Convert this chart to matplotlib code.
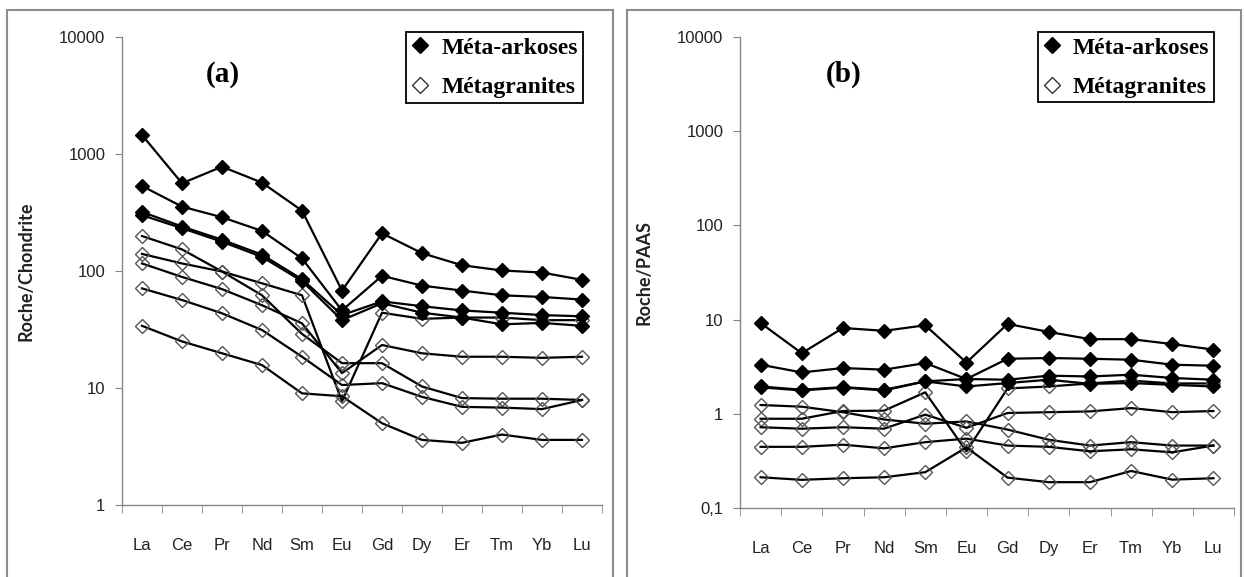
import matplotlib
matplotlib.use("Agg")
import matplotlib.pyplot as plt
from matplotlib import font_manager
from matplotlib.lines import Line2D
from matplotlib.patches import Rectangle
from matplotlib.ticker import FixedLocator, FixedFormatter, NullLocator

# --------------------------------------------------
# donnees
# --------------------------------------------------
elements = ["La", "Ce", "Pr", "Nd", "Sm", "Eu", "Gd", "Dy", "Er", "Tm", "Yb", "Lu"]

# Roche / Chondrite
arkoses_chondrite = [
    [1453, 562, 779, 569, 328, 68, 210, 142, 112, 101, 97, 84],
    [533, 355, 288, 220, 128, 46, 91, 75, 68, 62, 60, 57],
    [320, 240, 185, 138, 85, 42, 55, 50, 46, 44, 42, 41],
    [300, 232, 178, 132, 82, 38, 53, 44, 40, 35, 36, 34],
]
granites_chondrite = [
    [199, 153, 99, 62, 29, 16.3, 16.3, 10.3, 8.2, 8.1, 8.1, 7.9],
    [140, 116, 99, 78.5, 62, 7.7, 44, 39, 40, 40, 38, 38],
    [116, 89, 70, 51, 35.7, 13.4, 23.3, 19.8, 18.5, 18.5, 18.1, 18.5],
    [71, 56.5, 43.5, 31.3, 18.5, 10.6, 11.0, 8.4, 6.9, 6.8, 6.6, 7.9],
    [34, 25, 19.8, 15.7, 9.0, 8.5, 5.0, 3.6, 3.4, 4.0, 3.6, 3.6],
]

# Roche / PAAS
arkoses_paas = [
    [9.2, 4.4, 8.15, 7.6, 8.7, 3.5, 9.0, 7.4, 6.2, 6.2, 5.5, 4.8],
    [3.32, 2.75, 3.06, 2.94, 3.46, 2.34, 3.84, 3.91, 3.84, 3.75, 3.32, 3.24],
    [1.95, 1.80, 1.92, 1.80, 2.21, 2.34, 2.30, 2.54, 2.49, 2.60, 2.40, 2.30],
    [1.91, 1.77, 1.90, 1.77, 2.21, 1.95, 2.12, 2.30, 2.08, 2.12, 2.03, 1.95],
]
granites_paas = [
    [1.24, 1.19, 1.04, 0.87, 0.785, 0.83, 0.68, 0.53, 0.46, 0.50, 0.46, 0.46],
    [0.886, 0.886, 1.07, 1.08, 1.69, 0.40, 1.86, 1.95, 2.1, 2.25, 2.1, 2.1],
    [0.72, 0.695, 0.72, 0.695, 0.98, 0.71, 1.02, 1.04, 1.06, 1.15, 1.04, 1.07],
    [0.446, 0.446, 0.47, 0.43, 0.50, 0.545, 0.46, 0.446, 0.40, 0.42, 0.39, 0.46],
    [0.212, 0.199, 0.207, 0.212, 0.24, 0.44, 0.21, 0.188, 0.188, 0.247, 0.20, 0.207],
]

ticks_a = [1, 10, 100, 1000, 10000]
labels_a = ["1", "10", "100", "1000", "10000"]
ticks_b = [0.1, 1, 10, 100, 1000, 10000]
labels_b = ["0,1", "1", "10", "100", "1000", "10000"]

legende = ["Méta-arkoses", "Métagranites"]


# --------------------------------------------------
# polices
# --------------------------------------------------
noms = {f.name for f in font_manager.fontManager.ttflist}
if "Liberation Sans Narrow" in noms:
    police_axes = "Liberation Sans Narrow"
    taille_axes = 13.5
else:
    police_axes = "Liberation Sans"
    taille_axes = 12

GRIS = "#868686"


def tracer(ax, arkoses, granites, ticks, labels, ylabel, titre):

    x = list(range(len(elements)))

    for serie in granites:
        ax.plot(x, serie, color="black", lw=1.6, marker="D", ms=7.5,
                mfc="none", mec="#555555", mew=1.0, zorder=2)

    for serie in arkoses:
        ax.plot(x, serie, color="black", lw=1.6, marker="D", ms=7,
                mfc="black", mec="black", zorder=3)

    ax.set_yscale("log")
    ax.set_ylim(ticks[0], ticks[-1])
    ax.set_xlim(-0.5, len(elements) - 0.5)

    ax.yaxis.set_major_locator(FixedLocator(ticks))
    ax.yaxis.set_major_formatter(FixedFormatter(labels))
    ax.yaxis.set_minor_locator(NullLocator())

    ax.set_xticks(x)
    ax.set_xticklabels(elements)
    ax.set_xticks([i - 0.5 for i in range(len(elements) + 1)], minor=True)

    ax.tick_params(axis="x", which="major", length=0, pad=24)
    ax.tick_params(axis="x", which="minor", length=6, color=GRIS, direction="out")
    ax.tick_params(axis="y", which="major", length=5, color=GRIS, direction="out", pad=7)

    for lab in ax.get_xticklabels() + ax.get_yticklabels():
        lab.set_fontfamily(police_axes)
        lab.set_fontsize(taille_axes)
        lab.set_color("#222222")

    for cote in ["top", "right"]:
        ax.spines[cote].set_visible(False)
    for cote in ["left", "bottom"]:
        ax.spines[cote].set_color(GRIS)
        ax.spines[cote].set_linewidth(1.0)

    ax.set_ylabel(ylabel, fontfamily="Lato", fontweight="bold", fontsize=13,
                  labelpad=18, color="#222222")

    ax.text(0.21, 0.92, titre, transform=ax.transAxes, ha="center", va="center",
            fontfamily="Liberation Serif", fontweight="bold", fontsize=21)

    poignees = [
        Line2D([], [], ls="none", marker="D", ms=8, mfc="black", mec="black"),
        Line2D([], [], ls="none", marker="D", ms=8, mfc="white", mec="#333333", mew=1.0),
    ]
    leg = ax.legend(poignees, legende, loc="upper right", bbox_to_anchor=(0.96, 1.01),
                    frameon=True, fancybox=False, framealpha=1, edgecolor="black",
                    borderpad=0.2, labelspacing=0.75, handlelength=0.8,
                    handletextpad=0.5, borderaxespad=0,
                    prop={"family": "Liberation Serif", "weight": "bold", "size": 17})
    leg.get_frame().set_linewidth(1.3)


# --------------------------------------------------
# figure
# --------------------------------------------------
L, H = 1244, 577
fig = plt.figure(figsize=(L / 100, H / 100), dpi=100)

ax1 = fig.add_axes([122 / L, 1 - 505 / H, 480 / L, 468 / H])
ax2 = fig.add_axes([740 / L, 1 - 508 / H, 494 / L, 471 / H])

tracer(ax1, arkoses_chondrite, granites_chondrite, ticks_a, labels_a, "Roche/Chondrite", "(a)")
tracer(ax2, arkoses_paas, granites_paas, ticks_b, labels_b, "Roche/PAAS", "(b)")

# cadres gris autour des deux graphiques
for x0, x1 in [(7, 613), (627, 1241)]:
    fig.patches.append(Rectangle((x0 / L, -0.02), (x1 - x0) / L, (H - 10) / H + 0.02,
                                 transform=fig.transFigure, fill=False,
                                 edgecolor="#8c8c8c", lw=1.5))

fig.savefig("out.png", dpi=100)
